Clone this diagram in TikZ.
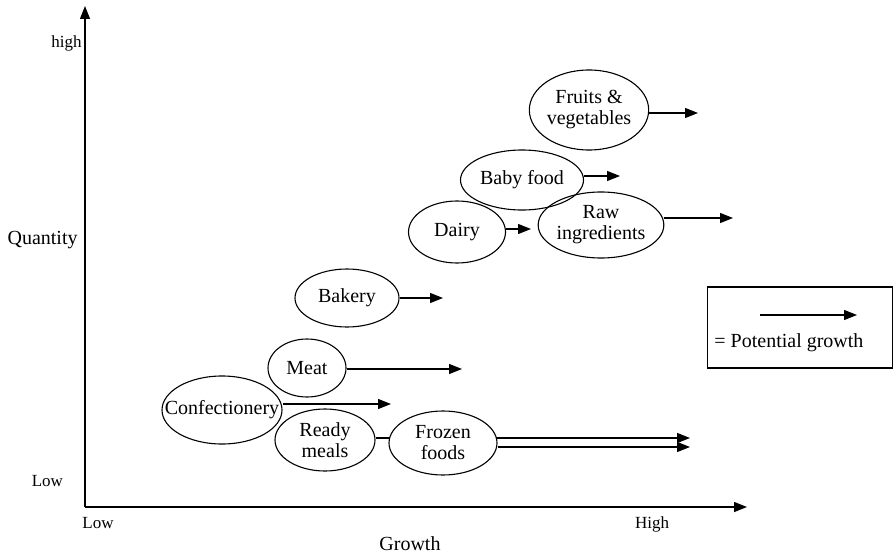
\documentclass[tikz,border=0pt]{standalone}
\usepackage{fontspec}
\setmainfont{Liberation Serif}
\usetikzlibrary{arrows.meta,shapes.geometric}
\tikzset{
  >={Triangle[length=6.5pt,width=5pt]},
  cat/.style={ellipse,draw,line width=0.55pt,inner sep=0pt,align=center,
    font=\fontsize{10}{10.5}\selectfont},
  potential/.style={->,line width=0.55pt},
  axis/.style={->,line width=0.7pt},
  tick/.style={font=\fontsize{8.5}{10}\selectfont},
  axlabel/.style={font=\fontsize{10}{12}\selectfont},
}
\begin{document}
\begin{tikzpicture}[x=0.5pt,y=-0.5pt]
  \useasboundingbox (0,0) rectangle (893,556);
  % axes
  \coordinate (origin) at (85,507);
  \coordinate (ytop) at (85,6);
  \coordinate (xend) at (747,507);
  \draw[axis] (origin) -- (ytop);
  \draw[axis] (origin) -- (xend);
  \node[tick,anchor=east,inner sep=1pt] (yhigh) at (84,43) {high};
  \node[tick,anchor=east] (ylow) at (70,481) {Low};
  \node[axlabel,anchor=east,inner sep=1pt] (quantity) at (80,240) {Quantity};
  \node[tick] (xlow) at (98,523) {Low};
  \node[tick] (xhigh) at (652,524) {High};
  \node[axlabel] (growth) at (410,544) {Growth};
  % markets
  \node[cat,minimum width=58pt,minimum height=40pt] (fruit) at (589,110) {Fruits \&\\ vegetables};
  \node[cat,minimum width=61.5pt,minimum height=30pt] (baby) at (522,180) {Baby food};
  \node[cat,minimum width=48.5pt,minimum height=31pt] (dairy) at (457,232) {Dairy};
  \node[cat,minimum width=61.5pt,minimum height=33pt] (raw) at (601,225) {Raw\\ ingredients};
  \node[cat,minimum width=52pt,minimum height=29pt] (bakery) at (347,298) {Bakery};
  \node[cat,minimum width=39pt,minimum height=29pt] (meat) at (307,368) {Meat};
  \node[cat,minimum width=60pt,minimum height=34pt] (conf) at (222,410) {\makebox[30pt]{Confectionery}};
  \node[cat,minimum width=50pt,minimum height=31pt] (ready) at (325,440) {Ready\\ meals};
  % arrow ends
  \coordinate (fruit-end) at (698,113);
  \coordinate (baby-end) at (620,176);
  \coordinate (dairy-end) at (531,229);
  \coordinate (raw-end) at (733,218);
  \coordinate (bakery-end) at (443,298);
  \coordinate (meat-end) at (462,369);
  \coordinate (conf-end) at (391,404);
  \coordinate (ready-end) at (690,438);
  \coordinate (frozen-end) at (690,447);
  \draw[potential] (ready.east |- ready-end) -- (ready-end);
  \node[cat,fill=white,minimum width=54pt,minimum height=32pt] (frozen) at (443,443) {Frozen\\ foods};
  \draw[potential] (fruit.east |- fruit-end) -- (fruit-end);
  \draw[potential] (baby.east |- baby-end) -- (baby-end);
  \draw[potential] (dairy.east |- dairy-end) -- (dairy-end);
  \draw[potential] (raw.east |- raw-end) -- (raw-end);
  \draw[potential] (bakery.east |- bakery-end) -- (bakery-end);
  \draw[potential] (meat.east |- meat-end) -- (meat-end);
  \draw[potential] (conf.east |- conf-end) -- (conf-end);
  \draw[potential] (frozen.east |- frozen-end) -- (frozen-end);
  % legend
  \node[draw,line width=0.55pt,minimum width=92.5pt,minimum height=40.5pt,inner sep=0pt] (legend) at (800,327.5) {};
  \coordinate (leg-start) at (760,315);
  \coordinate (leg-end) at (857,315);
  \draw[potential] (leg-start) -- (leg-end);
  \node[axlabel,anchor=west,inner sep=1pt] (legtext) at (712,343) {= Potential growth};
\end{tikzpicture}
\end{document}
